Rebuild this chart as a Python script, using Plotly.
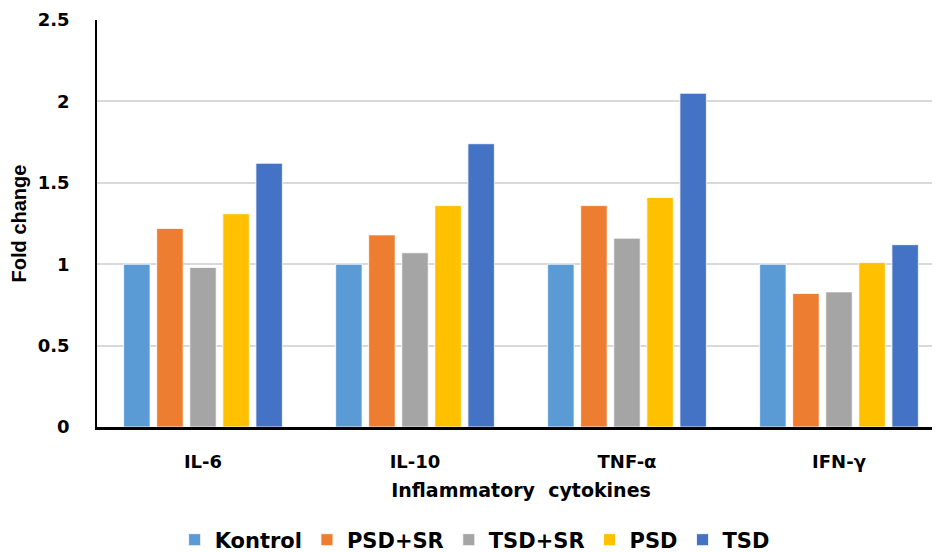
import plotly.graph_objects as go

categories = ["IL-6", "IL-10", "TNF-α", "IFN-γ"]
series_names = ["Kontrol", "PSD+SR", "TSD+SR", "PSD", "TSD"]
kontrol = [1.00, 1.00, 1.00, 1.00]
psd_sr = [1.22, 1.18, 1.36, 0.82]
tsd_sr = [0.98, 1.07, 1.16, 0.83]
psd = [1.31, 1.36, 1.41, 1.01]
tsd = [1.62, 1.74, 2.05, 1.12]
colors = ["#5B9BD5", "#ED7D31", "#A5A5A5", "#FFC000", "#4472C4"]
y_ticks = [0, 0.5, 1, 1.5, 2, 2.5]
y_tick_labels = ["0", "0.5", "1", "1.5", "2", "2.5"]

fig = go.Figure()
for name, vals, col in zip(series_names, [kontrol, psd_sr, tsd_sr, psd, tsd], colors):
    fig.add_trace(go.Bar(
        name=name, x=categories, y=vals,
        marker=dict(color=col, line=dict(color="white", width=0.8)),
    ))

axis_font = dict(family="DejaVu Sans", size=18, color="#000000", weight="bold")
fig.update_layout(
    width=937, height=544,
    margin=dict(l=89, r=0, t=12, b=125),
    plot_bgcolor="white", paper_bgcolor="white",
    barmode="group", bargap=0.22, bargroupgap=0.2,
    showlegend=True,
    legend=dict(orientation="h", x=0.498, xanchor="center", xref="container",
                y=0.022, yanchor="middle", yref="container",
                font=dict(family="DejaVu Sans", size=21, color="#000000", weight="bold"),
                itemwidth=30, tracegroupgap=0),
    xaxis=dict(
        automargin=False,
        showline=True, linecolor="#000000", linewidth=2.5,
        tickfont=axis_font,
        ticks="", ticklabelstandoff=17,
        title=dict(text="Inflammatory  cytokines", standoff=13,
                   font=dict(family="DejaVu Sans", size=19, color="#000000", weight="bold")),
    ),
    yaxis=dict(
        automargin=False,
        range=[0, 2.5], tickvals=y_ticks, ticktext=y_tick_labels,
        showline=True, linecolor="#000000", linewidth=1.5,
        showgrid=True, gridcolor="#D9D9D9", gridwidth=1.5,
        zeroline=False,
        ticks="", ticklabelstandoff=22, tickfont=axis_font,
        title=dict(text="Fold change", standoff=12,
                   font=dict(family="Liberation Sans", size=20, color="#000000", weight="bold")),
    ),
)

fig.write_html("out.html")
